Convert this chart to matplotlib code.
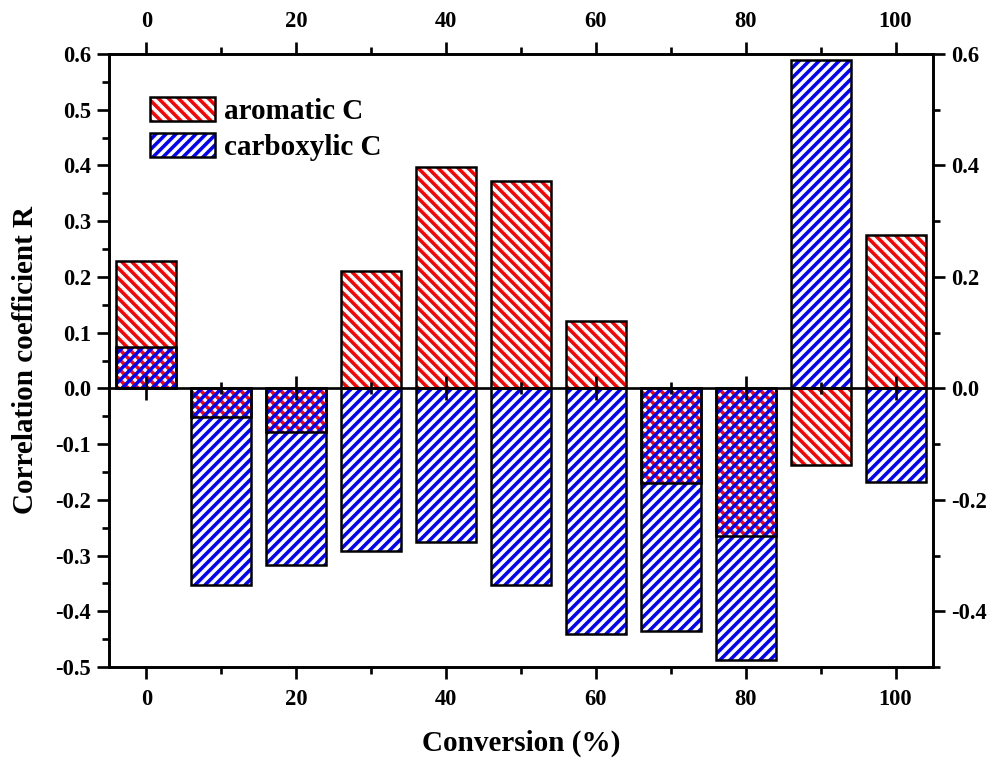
import matplotlib
matplotlib.use("Agg")
import matplotlib.pyplot as plt
import numpy as np
from matplotlib.patches import Patch
from matplotlib.ticker import MultipleLocator, FormatStrFormatter

plt.rcParams['font.family'] = ['Liberation Serif', 'DejaVu Serif']
plt.rcParams['font.weight'] = 'bold'
plt.rcParams['hatch.linewidth'] = 2.1

conversion = [0, 10, 20, 30, 40, 50, 60, 70, 80, 90, 100]
aromatic_C = [0.228, -0.052, -0.078, 0.210, 0.398, 0.373, 0.120, -0.170, -0.265, -0.138, 0.275]
carboxylic_C = [0.075, -0.352, -0.317, -0.292, -0.275, -0.352, -0.440, -0.436, -0.488, 0.590, -0.168]

DPI = 120
fig = plt.figure(figsize=(994 / DPI, 762 / DPI), dpi=DPI)
ax = fig.add_axes([109 / 994, 1 - 667 / 762, (933 - 109) / 994, (667 - 54) / 762])

ymin, ymax = -0.5, 0.6
ax.set_xlim(-5, 105)
ax.set_ylim(ymin, ymax)

RED_HATCH = '\\\\\\\\'
BLUE_HATCH = '////'
w = 8
# hatches
ax.bar(conversion, aromatic_C, width=w, facecolor='none', edgecolor='#ff0000',
       hatch=RED_HATCH, linewidth=0, zorder=1)
ax.bar(conversion, carboxylic_C, width=w, facecolor='none', edgecolor='#0000ff',
       hatch=BLUE_HATCH, linewidth=0, zorder=1.1)
# outlines
ax.bar(conversion, aromatic_C, width=w, facecolor='none', edgecolor='black',
       linewidth=1.5, zorder=2)
ax.bar(conversion, carboxylic_C, width=w, facecolor='none', edgecolor='black',
       linewidth=1.5, zorder=2)

lw = 1.6
for s in ax.spines.values():
    s.set_linewidth(lw)

TS = 13.5
ax.xaxis.set_major_locator(MultipleLocator(20))
ax.xaxis.set_minor_locator(MultipleLocator(10))
ax.yaxis.set_major_locator(MultipleLocator(0.1))
ax.yaxis.set_minor_locator(MultipleLocator(0.05))
ax.yaxis.set_major_formatter(FormatStrFormatter('%.1f'))
ax.tick_params(which='major', direction='out', length=7.2, width=lw, labelsize=TS,
               top=True, labeltop=True, right=False)
ax.tick_params(which='minor', direction='out', length=4.2, width=lw, top=True, right=False)
ax.tick_params(axis='x', which='major', pad=6)

# right axis
axr = ax.twinx()
axr.set_ylim(ymin, ymax)
axr.yaxis.set_major_locator(MultipleLocator(0.2))
axr.yaxis.set_minor_locator(MultipleLocator(0.1))
axr.yaxis.set_major_formatter(FormatStrFormatter('%.1f'))
axr.tick_params(which='major', direction='out', length=7.2, width=lw, labelsize=TS)
axr.tick_params(which='minor', direction='out', length=4.2, width=lw)
for s in axr.spines.values():
    s.set_linewidth(lw)

# zero axis with crossing ticks
zero_frac = (0 - ymin) / (ymax - ymin)
secx = ax.secondary_xaxis(zero_frac)
secx.xaxis.set_major_locator(MultipleLocator(20))
secx.xaxis.set_minor_locator(MultipleLocator(10))
secx.tick_params(which='major', direction='inout', length=14.4, width=lw, labelbottom=False)
secx.tick_params(which='minor', direction='inout', length=7.2, width=lw)
secx.spines['bottom'].set_linewidth(lw)
secx.set_zorder(5)

LS = 17.5
ax.set_xlabel('Conversion (%)', fontsize=LS, fontweight='bold', labelpad=12)
ax.set_ylabel('Correlation coefficient R', fontsize=LS, fontweight='bold', labelpad=10)

h1 = (Patch(facecolor='none', edgecolor='#ff0000', hatch=RED_HATCH, linewidth=0),
      Patch(facecolor='none', edgecolor='black', linewidth=1.5))
h2 = (Patch(facecolor='none', edgecolor='#0000ff', hatch=BLUE_HATCH, linewidth=0),
      Patch(facecolor='none', edgecolor='black', linewidth=1.5))
axr.legend([h1, h2], ['aromatic C', 'carboxylic C'], loc='upper left',
           bbox_to_anchor=((150 - 109) / 824, (667 - 97) / 613), frameon=False, fontsize=LS,
           handlelength=2.24, handleheight=0.9, handletextpad=0.31, labelspacing=0.26,
           borderpad=0, borderaxespad=0)

fig.savefig('out.png', dpi=DPI)
